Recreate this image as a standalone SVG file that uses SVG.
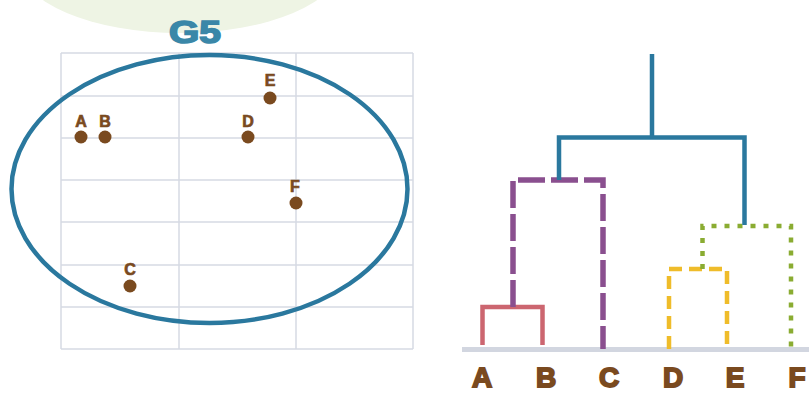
<svg xmlns="http://www.w3.org/2000/svg" width="809" height="393" viewBox="0 0 809 393">
<style>
.grid{stroke:#d6dae4;stroke-width:1.5;fill:none}
.pt{fill:#7a4a1f}
.lbl{font-family:"Liberation Sans",Arial,sans-serif;font-weight:bold;fill:#7a4a1f;stroke:#7a4a1f;text-anchor:middle}
.small{font-size:16px;stroke-width:0.7}
.big{font-size:28px;stroke-width:1.8}
.ln{fill:none;stroke-linejoin:miter;stroke-linecap:butt}
</style>
<rect width="809" height="393" fill="#ffffff"/>
<ellipse cx="180" cy="-35" rx="160" ry="68" fill="#eef4e4"/>
<g id="grid">
<path class="grid" d="M61 53H413M61 96H413M61 138H413M61 180H413M61 222H413M61 265H413M61 307H413M61 349H413M61 53V349M179 53V349M296 53V349M413 53V349"/>
</g>
<g id="cluster-G5">
<ellipse cx="209.5" cy="189" rx="198" ry="134" fill="none" stroke="#2a789e" stroke-width="4.5"/>
<text x="195" y="43" font-family="Liberation Sans,Arial,sans-serif" font-weight="bold" font-size="31" fill="#3a87a8" stroke="#3a87a8" stroke-width="1.6" text-anchor="middle" textLength="52" lengthAdjust="spacingAndGlyphs">G5</text>
</g>
<g id="point-A"><circle class="pt" cx="81" cy="137" r="6.5"/><text class="lbl small" x="81" y="127">A</text></g>
<g id="point-B"><circle class="pt" cx="105" cy="137" r="6.5"/><text class="lbl small" x="105" y="127">B</text></g>
<g id="point-D"><circle class="pt" cx="248" cy="137" r="6.5"/><text class="lbl small" x="248" y="127">D</text></g>
<g id="point-E"><circle class="pt" cx="270" cy="98" r="6.5"/><text class="lbl small" x="270" y="86">E</text></g>
<g id="point-F"><circle class="pt" cx="296" cy="203" r="6.5"/><text class="lbl small" x="295" y="192">F</text></g>
<g id="point-C"><circle class="pt" cx="130" cy="286" r="6.5"/><text class="lbl small" x="130" y="275">C</text></g>
<g id="axis"><rect x="462" y="347" width="347" height="5" fill="#d2d6e0"/></g>
<g id="connectors">
<path class="ln" d="M482.5 345V307H542.5V345" stroke="#cc6670" stroke-width="4.5"/>
<path class="ln" d="M513 307V180H603V349" stroke="#8a4f8f" stroke-width="5.5" stroke-dasharray="27 6"/>
<path class="ln" d="M669 349V269H727V349" stroke="#efbc2a" stroke-width="4.5" stroke-dasharray="13 7"/>
<path class="ln" d="M702.5 269V226H791V349" stroke="#8aac32" stroke-width="4.5" stroke-dasharray="5 8"/>
<path class="ln" d="M559 180V137.5H744.5V225M652 137.5V54" stroke="#2a789e" stroke-width="4.5"/>
</g>
<g id="leaf-labels">
<text class="lbl big" x="482" y="386.5">A</text>
<text class="lbl big" x="546" y="386.5">B</text>
<text class="lbl big" x="609" y="386.5">C</text>
<text class="lbl big" x="673" y="386.5">D</text>
<text class="lbl big" x="735" y="386.5">E</text>
<text class="lbl big" x="797" y="386.5">F</text>
</g>
</svg>
